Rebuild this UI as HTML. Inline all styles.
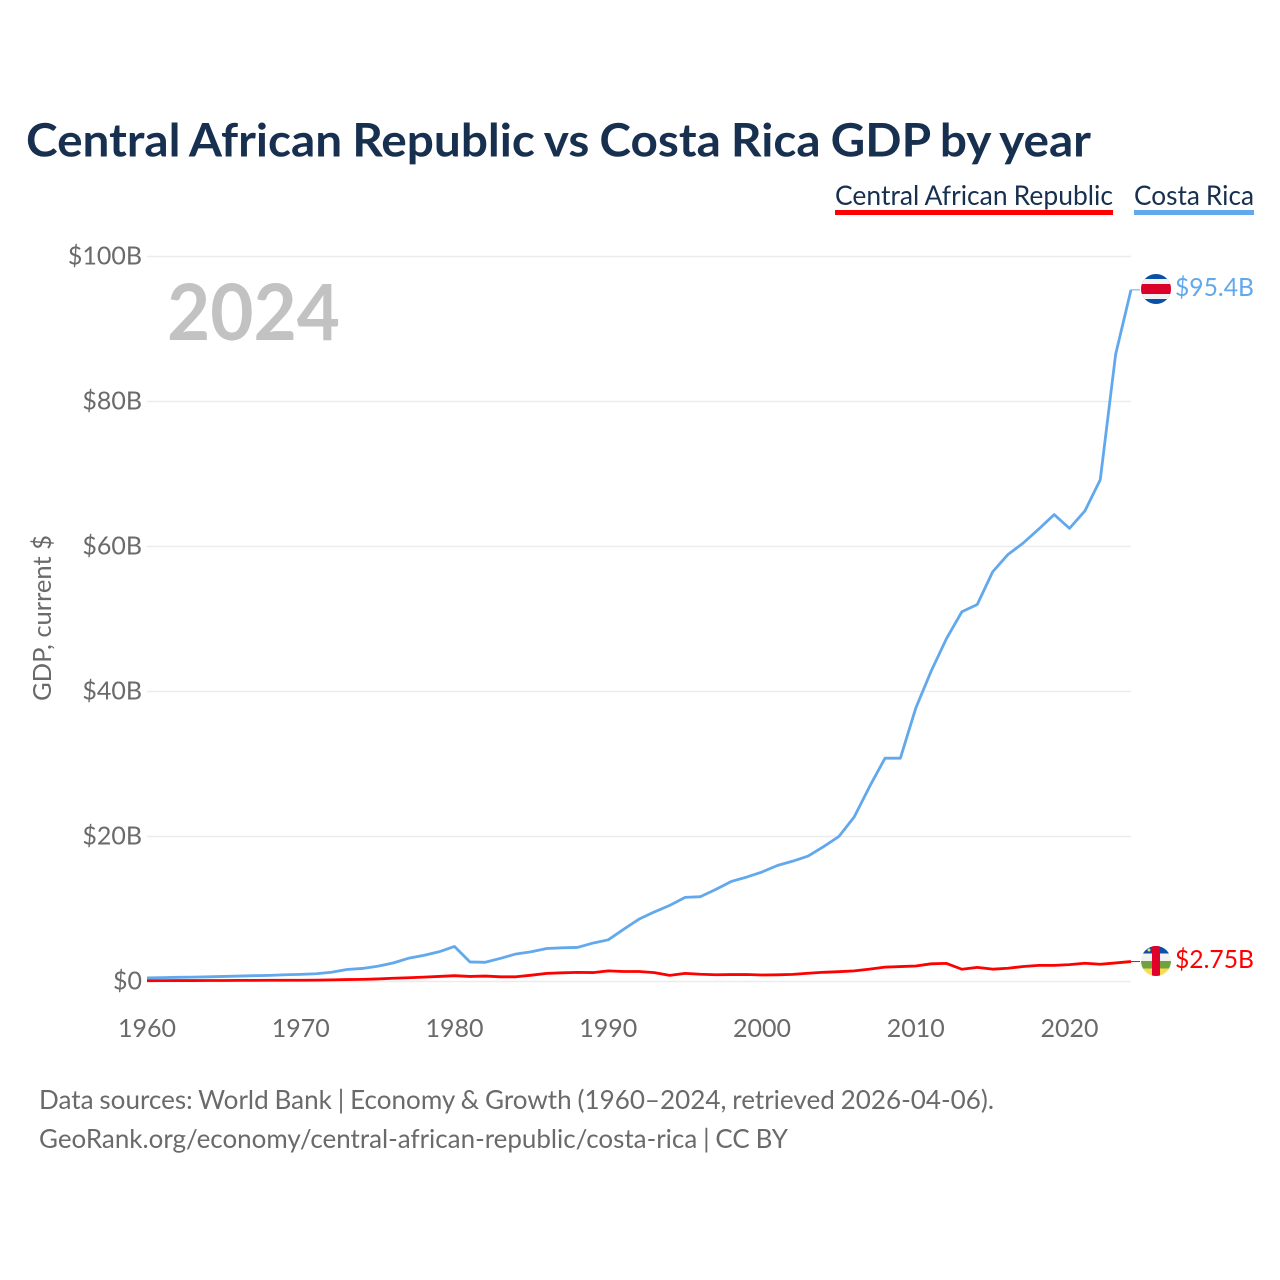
<!DOCTYPE html>
<html lang="en">
<head>
<meta charset="utf-8">
<title>Central African Republic vs Costa Rica GDP by year</title>
<style>
html,body{margin:0;padding:0;background:#fff;width:1280px;height:1280px;overflow:hidden}
svg{display:block;font-family:"Lato","Carlito","Liberation Sans",sans-serif}
</style>
</head>
<body>
<svg id="chart" xmlns="http://www.w3.org/2000/svg" width="1280" height="1280" viewBox="0 0 1280 1280">
  <defs>
    <clipPath id="clip-cr"><circle cx="1156" cy="289" r="15"/></clipPath>
    <clipPath id="clip-caf"><circle cx="1156" cy="961" r="15"/></clipPath>
  </defs>
  <rect width="1280" height="1280" fill="#fff"/>
  <text x="26" y="156.5" font-size="46" font-weight="700" fill="#18304f" word-spacing="-1.5" textLength="1065" lengthAdjust="spacingAndGlyphs">Central African Republic vs Costa Rica GDP by year</text>

  <g>
    <g>
      <text x="835" y="205" font-size="27" fill="#18304f" word-spacing="-0.7" textLength="278" lengthAdjust="spacingAndGlyphs">Central African Republic</text>
      <rect x="835" y="210" width="278" height="5" fill="#ff0000"/>
    </g>
    <g>
      <text x="1134" y="205" font-size="27" fill="#18304f" word-spacing="-0.7" textLength="120" lengthAdjust="spacingAndGlyphs">Costa Rica</text>
      <rect x="1134" y="210" width="120" height="5" fill="#62a8ec"/>
    </g>
  </g>

  <g id="grid"></g>
  <g id="y-axis"></g>
  <g id="x-axis"></g>

  <text transform="translate(51,701) rotate(-90)" font-size="25" fill="#6a6a6a" textLength="166" lengthAdjust="spacingAndGlyphs">GDP, current $</text>
  <text x="167" y="340" font-size="78" font-weight="700" fill="#c2c2c2" textLength="173" lengthAdjust="spacingAndGlyphs">2024</text>

  <g id="series"></g>

  <g clip-path="url(#clip-cr)">
    <rect x="1141" y="274" width="30" height="30" fill="#0a4fa8"/>
    <rect x="1141" y="279" width="30" height="20" fill="#f2f2f2"/>
    <rect x="1141" y="284" width="30" height="10" fill="#da0028"/>
  </g>
  <g clip-path="url(#clip-caf)">
    <rect x="1141" y="946" width="30" height="8" fill="#0a4fa8"/>
    <rect x="1141" y="953.5" width="30" height="8" fill="#f2f2f2"/>
    <rect x="1141" y="961" width="30" height="7.5" fill="#6fa33c"/>
    <rect x="1141" y="968.5" width="30" height="8" fill="#fbd955"/>
    <rect x="1152" y="946" width="8" height="30" fill="#e0002a"/>
    <circle cx="1149" cy="950" r="1.5" fill="#fbd955"/>
  </g>

  <text x="1175" y="296" font-size="25" fill="#62a8ec" textLength="79" lengthAdjust="spacingAndGlyphs">$95.4B</text>
  <text x="1175" y="968" font-size="25" fill="#ff0000" textLength="79" lengthAdjust="spacingAndGlyphs">$2.75B</text>

  <g>
    <text x="39" y="1109" font-size="26" fill="#6a6a6a" word-spacing="-0.8" textLength="955" lengthAdjust="spacingAndGlyphs">Data sources: World Bank | Economy &amp; Growth (1960–2024, retrieved 2026-04-06).</text>
    <text x="39" y="1148" font-size="26" fill="#6a6a6a" word-spacing="-0.8" textLength="749" lengthAdjust="spacingAndGlyphs">GeoRank.org/economy/central-african-republic/costa-rica | CC BY</text>
  </g>
</svg>
<script>
const startYear = 1960;
const endYear = 2024;
const xTickYears = [1960, 1970, 1980, 1990, 2000, 2010, 2020];
const yTickValues = [0, 20, 40, 60, 80, 100];
const yTickLabels = ['$0', '$20B', '$40B', '$60B', '$80B', '$100B'];
const costaRicaGdp = [0.5,0.54,0.58,0.6,0.65,0.7,0.75,0.8,0.85,0.93,0.98,1.07,1.27,1.65,1.8,2.1,2.55,3.2,3.6,4.1,4.83,2.7,2.65,3.2,3.8,4.1,4.55,4.65,4.7,5.3,5.75,7.2,8.6,9.6,10.5,11.6,11.7,12.7,13.8,14.4,15.1,16.0,16.6,17.3,18.6,20.0,22.7,26.9,30.8,30.8,37.7,42.8,47.3,51.0,52.0,56.5,58.9,60.5,62.4,64.4,62.5,64.9,69.2,86.5,95.4];
const centralAfricanRepublicGdp = [0.11,0.12,0.13,0.13,0.14,0.14,0.15,0.16,0.17,0.17,0.17,0.19,0.22,0.27,0.29,0.35,0.45,0.52,0.6,0.7,0.8,0.7,0.75,0.65,0.65,0.87,1.12,1.2,1.26,1.23,1.46,1.38,1.38,1.22,0.85,1.12,1.0,0.93,0.96,0.97,0.9,0.92,0.98,1.14,1.27,1.35,1.47,1.7,1.98,2.06,2.14,2.44,2.5,1.69,1.95,1.7,1.83,2.07,2.22,2.22,2.33,2.52,2.38,2.56,2.75];

const NS = 'http://www.w3.org/2000/svg';
const xScale = year => 147 + (year - startYear) * (1131 - 147) / (endYear - startYear);
const yScale = value => 981.5 - value * 7.25;

function make(tag, attrs, parent, text) {
  const el = document.createElementNS(NS, tag);
  for (const k in attrs) el.setAttribute(k, attrs[k]);
  if (text !== undefined) el.textContent = text;
  parent.appendChild(el);
  return el;
}

const gridGroup = document.getElementById('grid');
const yAxisGroup = document.getElementById('y-axis');
const xAxisGroup = document.getElementById('x-axis');
const seriesGroup = document.getElementById('series');

yTickValues.forEach((v, i) => {
  const line = make('line', {x1: 147, x2: xScale(endYear), y1: yScale(v), y2: yScale(v), stroke: '#ececec', 'stroke-width': 1.5}, gridGroup);
  
  
  const label = make('text', {x: 142, y: yScale(v) + 8, 'text-anchor': 'end', 'font-size': 25, fill: '#6a6a6a'}, yAxisGroup, yTickLabels[i]);
  
  
});

xTickYears.forEach(year => {
  const label = make('text', {x: xScale(year), y: 1037, 'text-anchor': 'middle', 'font-size': 25, fill: '#6a6a6a'}, xAxisGroup, String(year));
  
  
});

function drawSeries(values, color, name) {
  const pts = values.map((v, i) => xScale(startYear + i).toFixed(2) + ',' + yScale(v).toFixed(2));
  const path = make('polyline', {points: pts.join(' '), fill: 'none', stroke: color, 'stroke-width': 2.8, 'stroke-linejoin': 'round'}, seriesGroup);
  
  
  const last = values[values.length - 1];
  const leader = make('line', {x1: xScale(endYear), x2: xScale(endYear) + 9, y1: yScale(last), y2: yScale(last), stroke: color, 'stroke-width': 1}, seriesGroup);
  
  
}

drawSeries(costaRicaGdp, '#62a8ec', 'costa-rica');
drawSeries(centralAfricanRepublicGdp, '#ff0000', 'central-african-republic');
</script>
</body>
</html>
